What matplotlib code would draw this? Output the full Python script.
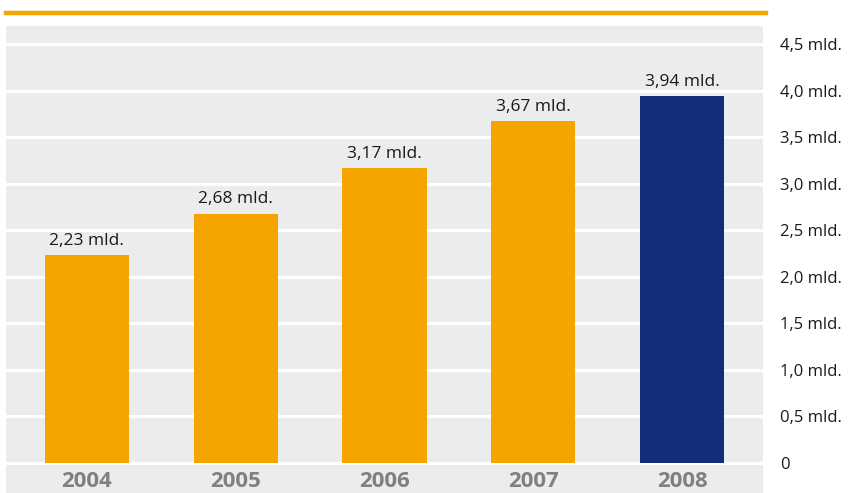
import matplotlib
matplotlib.use("Agg")
import matplotlib.pyplot as plt
from matplotlib.lines import Line2D

years = ["2004", "2005", "2006", "2007", "2008"]
values = [2.23, 2.68, 3.17, 3.67, 3.94]
value_labels = ["2,23 mld.", "2,68 mld.", "3,17 mld.", "3,67 mld.", "3,94 mld."]
yticks = [0, 0.5, 1.0, 1.5, 2.0, 2.5, 3.0, 3.5, 4.0, 4.5]
ytick_labels = ["0", "0,5 mld.", "1,0 mld.", "1,5 mld.", "2,0 mld.", "2,5 mld.",
                "3,0 mld.", "3,5 mld.", "4,0 mld.", "4,5 mld."]

ORANGE = "#F5A400"
NAVY = "#132D7A"
BG = "#EBECEE"

plt.rcParams['font.family'] = ['Open Sans', 'DejaVu Sans']

W, H = 849, 493
fig = plt.figure(figsize=(W / 100, H / 100), dpi=100)
ax = fig.add_axes([6 / W, 0, (763 - 6) / W, (493 - 26) / H])
ax.set_facecolor(BG)
for s in ax.spines.values():
    s.set_visible(False)

x = list(range(len(years)))
colors = [ORANGE] * (len(years) - 1) + [NAVY]
ax.bar(x, values, width=0.565, color=colors, zorder=3)

for xi, v, lab in zip(x, values, value_labels):
    ax.annotate(lab, (xi, v), xytext=(0, 7.5), textcoords="offset points",
                ha="center", va="baseline", fontsize=12.5, color="#1a1a1a", zorder=4)

ax.set_xlim(-0.544, 4.544)
ax.set_ylim(-0.322, 4.695)

ax.set_yticks(yticks)
ax.set_yticklabels(ytick_labels)
ax.yaxis.tick_right()
ax.tick_params(axis='y', length=0, pad=12, labelsize=12, labelcolor="#1a1a1a")
ax.grid(axis='y', color='white', linewidth=2.2, zorder=1)
ax.set_axisbelow(True)

ax.set_xticks(x)
ax.set_xticklabels(years, fontweight='bold', color="#808080", fontsize=16)
ax.tick_params(axis='x', length=0, pad=-15.5)

fig.add_artist(Line2D([6 / W, 766 / W], [1 - 13 / H, 1 - 13 / H],
                      color=ORANGE, linewidth=3.2, transform=fig.transFigure))

fig.savefig("out.png", dpi=100)
